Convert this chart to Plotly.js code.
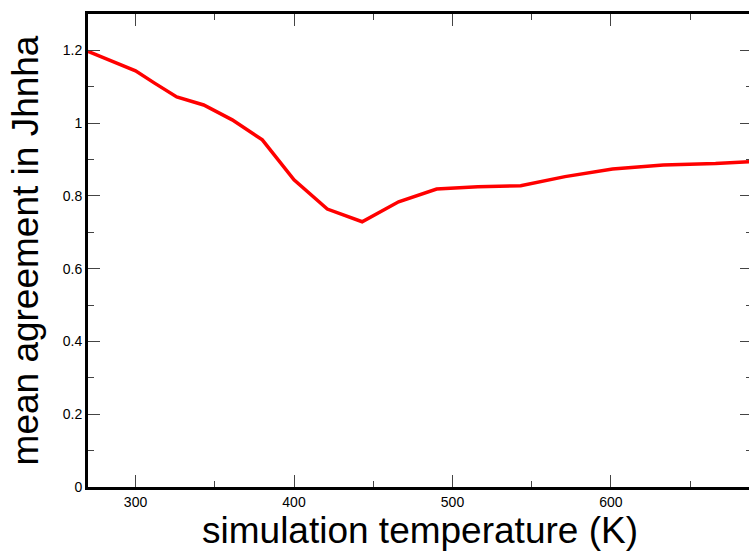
<!DOCTYPE html>
<html>
<head>
<meta charset="utf-8">
<script src="https://cdn.plot.ly/plotly-3.0.1.min.js"></script>
<style>
html,body{margin:0;padding:0;overflow:hidden;background:#fff;}
#chart{width:760px;height:553px;}
</style>
</head>
<body>
<div id="chart"></div>
<script>
const temperature = [270, 300, 312, 326, 343, 361, 380, 400, 421, 443, 466, 490, 516, 543, 571, 601, 633, 666, 700];
const agreement   = [1.197, 1.144, 1.110, 1.072, 1.050, 1.009, 0.954, 0.844, 0.764, 0.729, 0.784, 0.819, 0.825, 0.828, 0.853, 0.874, 0.885, 0.889, 0.897];

const tickFont = {family: 'Liberation Sans, Arial, Helvetica, sans-serif', size: 14, color: '#000'};
const titleFont = {family: 'Liberation Sans, Arial, Helvetica, sans-serif', size: 37, color: '#000'};

const axisCommon = {
  showline: true, linewidth: 3, linecolor: '#000', mirror: 'allticks',
  ticks: 'inside', ticklen: 12, tickwidth: 1, tickcolor: '#444',
  showgrid: false, zeroline: false, tickfont: tickFont
};

const trace = {
  x: temperature, y: agreement, type: 'scatter', mode: 'lines',
  line: {color: '#ff0000', width: 3.5}, hoverinfo: 'skip'
};

const layout = {
  width: 760, height: 553,
  margin: {l: 88, r: 8, t: 14, b: 66},
  paper_bgcolor: '#fff', plot_bgcolor: '#fff',
  showlegend: false,
  xaxis: Object.assign({}, axisCommon, {
    range: [270, 689], dtick: 100, tick0: 0,
    minor: {dtick: 50, ticklen: 6, tickwidth: 1, tickcolor: '#444', ticks: 'inside'},
    title: {text: 'simulation temperature (K)', font: titleFont, standoff: 4}
  }),
  yaxis: Object.assign({}, axisCommon, {
    range: [0, 1.3], dtick: 0.2, tick0: 0,
    minor: {dtick: 0.1, ticklen: 6, tickwidth: 1, tickcolor: '#444', ticks: 'inside'},
    title: {text: 'mean agreement in Jhnha', font: titleFont, standoff: 13}
  })
};

Plotly.newPlot('chart', [trace], layout, {displayModeBar: false, staticPlot: true});
</script>
</body>
</html>
